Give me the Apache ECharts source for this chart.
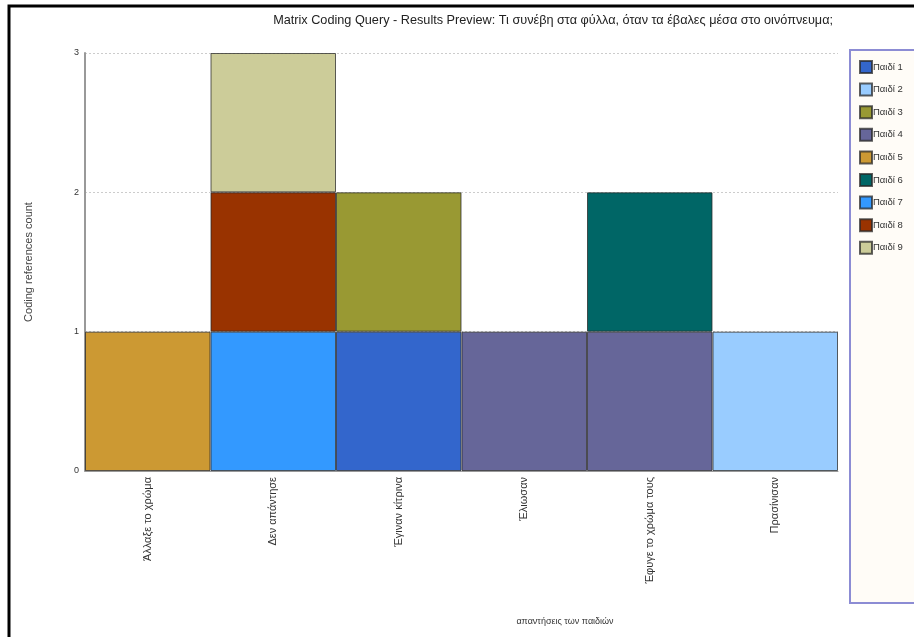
<!DOCTYPE html>
<html>
<head>
<meta charset="utf-8">
<style>
  html, body { margin: 0; padding: 0; background: #ffffff; }
  #chart { width: 914px; height: 637px; }
</style>
<script src="https://cdn.jsdelivr.net/npm/echarts@6/dist/echarts.min.js"></script>
</head>
<body>
<div id="chart"></div>
<script>
// Response categories (x axis)
const categories = ['Άλλαξε το χρώμα', 'Δεν απάντησε', 'Έγιναν κίτρινα', 'Έλιωσαν', 'Έφυγε το χρώμα τους', 'Πρασίνισαν'];

// Coding reference counts per child, one value per category (null = no reference)
const child1 = [null, null, 1, null, null, null];
const child2 = [null, null, null, null, null, 1];
const child3 = [null, null, 1, null, null, null];
const child4 = [null, null, null, 1, 1, null];
const child5 = [1, null, null, null, null, null];
const child6 = [null, null, null, null, 1, null];
const child7 = [null, 1, null, null, null, null];
const child8 = [null, 1, null, null, null, null];
const child9 = [null, 1, null, null, null, null];

const seriesNames = ['Παιδί 1', 'Παιδί 2', 'Παιδί 3', 'Παιδί 4', 'Παιδί 5', 'Παιδί 6', 'Παιδί 7', 'Παιδί 8', 'Παιδί 9'];
const seriesValues = [child1, child2, child3, child4, child5, child6, child7, child8, child9];
const seriesColors = ['#3366cc', '#99ccff', '#999933', '#666699', '#cc9933', '#006666', '#3399ff', '#993300', '#cccc99'];

const yTicks = [0, 1, 2, 3];

const FONT = '"Liberation Sans", Arial, sans-serif';

const chart = echarts.init(document.getElementById('chart'), null, { renderer: 'canvas' });

chart.setOption({
  backgroundColor: '#ffffff',
  animation: false,
  textStyle: { fontFamily: FONT },
  title: {
    text: 'Matrix Coding Query - Results Preview: Τι συνέβη στα φύλλα, όταν τα έβαλες μέσα στο οινόπνευμα;',
    right: 76,
    top: 9,
    textStyle: { fontFamily: FONT, fontSize: 12.7, fontWeight: 'normal', color: '#222222' }
  },
  graphic: [
    // page frame (left and top black edges)
    {
      type: 'rect', z: 100, silent: true,
      shape: { x: 9, y: 6, width: 1200, height: 1200 },
      style: { fill: 'none', stroke: '#000000', lineWidth: 3 }
    },
    // legend panel
    {
      type: 'rect', z: -1, silent: true,
      shape: { x: 850, y: 50, width: 120, height: 553 },
      style: { fill: '#fffcf7', stroke: '#8c8cd4', lineWidth: 2 }
    },
    // x axis title
    {
      type: 'text', silent: true,
      x: 565, y: 622,
      style: {
        text: 'απαντήσεις των παιδιών',
        font: '9px ' + FONT,
        fill: '#333333',
        align: 'center',
        verticalAlign: 'middle'
      }
    }
  ],
  legend: {
    orient: 'vertical',
    left: 854,
    top: 55,
    itemWidth: 12,
    itemHeight: 12,
    itemGap: 8.6,
    icon: 'rect',
    data: seriesNames,
    textStyle: { fontFamily: FONT, fontSize: 9.5, color: '#333333', padding: [0, 0, 0, -4] }
  },
  grid: { left: 85, right: 76, top: 53, bottom: 166, containLabel: false },
  xAxis: {
    type: 'category',
    data: categories,
    axisLine: { show: true, lineStyle: { color: '#999999', width: 1 } },
    axisTick: { show: false },
    axisLabel: {
      rotate: 90,
      interval: 0,
      margin: 6,
      fontFamily: FONT,
      fontSize: 11,
      color: '#333333'
    },
    splitLine: { show: false }
  },
  yAxis: {
    type: 'value',
    min: yTicks[0],
    max: yTicks[yTicks.length - 1],
    interval: 1,
    name: 'Coding references count',
    nameLocation: 'middle',
    nameGap: 51,
    nameTextStyle: { fontFamily: FONT, fontSize: 11, color: '#444444' },
    axisLine: { show: true, lineStyle: { color: '#999999', width: 2 } },
    axisTick: { show: false },
    axisLabel: { fontFamily: FONT, fontSize: 9, color: '#333333', margin: 6 },
    splitLine: { show: true, lineStyle: { color: '#cccccc', type: [2, 2], width: 1 } }
  },
  series: seriesNames.map((name, i) => ({
    name: name,
    type: 'bar',
    stack: 'total',
    barCategoryGap: '0%',
    data: seriesValues[i],
    itemStyle: {
      color: seriesColors[i],
      borderColor: 'rgba(40,40,40,0.75)',
      borderWidth: 1
    },
    emphasis: { disabled: true }
  }))
});
</script>
</body>
</html>
